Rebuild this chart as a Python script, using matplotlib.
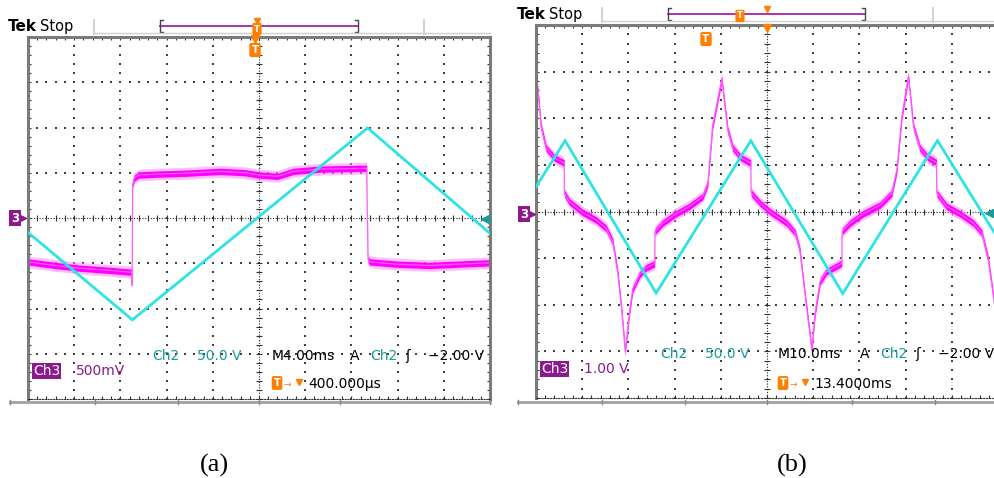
import numpy as np
import matplotlib.pyplot as plt
from matplotlib.lines import Line2D

W, H = 994, 478

# ---- panel (a): traces in graticule divisions (x: -5..5, y: -4..4)
a_ch2_x = [-5.0, -2.74, 2.35, 5.0]
a_ch2_y = [-0.32, -2.25, 1.99, -0.34]

a_ch3_x = [-5.0, -4.4, -3.87, -3.2, -2.75, -2.745, -2.735, -2.70, -2.60, -2.2,
           -1.57, -0.84, -0.3, 0.0, 0.4, 0.74, 1.32, 1.9, 2.33, 2.36, 2.40,
           2.97, 3.69, 4.3, 5.0]
a_ch3_y = [-0.97, -1.05, -1.11, -1.16, -1.2, -1.49, 0.75, 0.88, 0.95, 0.97,
           0.99, 1.03, 1.0, 0.95, 0.92, 1.03, 1.08, 1.09, 1.10, -0.92, -0.97,
           -1.02, -1.05, -1.02, -0.99]

# ---- panel (b)
b_ch2_x = [-5.0, -4.37, -2.40, -0.35, 1.64, 3.69, 5.0]
b_ch2_y = [0.53, 1.52, -1.75, 1.52, -1.76, 1.52, -0.58]

b_ch3_x = [-5.0, -4.96, -4.89, -4.78, -4.60, -4.39, -4.385, -4.28, -3.99, -3.70,
           -3.48, -3.34, -3.23, -3.14, -3.07, -2.98, -2.91, -2.76, -2.62, -2.43,
           -2.425, -2.26, -1.97, -1.68, -1.39, -1.28, -1.18, -0.98, -0.85, -0.74,
           -0.56, -0.35, -0.345, -0.15, 0.06, 0.43, 0.61, 0.71, 0.82, 0.97,
           1.04, 1.15, 1.29, 1.62, 1.625, 1.80, 2.08, 2.45, 2.70, 2.81,
           2.92, 3.06, 3.17, 3.31, 3.49, 3.67, 3.675, 3.89, 4.18, 4.47,
           4.65, 4.79, 4.90, 5.0]
b_ch3_y = [2.8, 2.61, 1.82, 1.36, 1.15, 1.04, 0.39, 0.21, -0.02, -0.18,
           -0.36, -0.64, -1.32, -2.18, -3.0, -2.18, -1.68, -1.36, -1.21, -1.12,
           -0.43, -0.25, -0.05, 0.11, 0.32, 0.61, 1.82, 2.84, 1.75, 1.36,
           1.15, 1.04, 0.40, 0.18, 0.0, -0.25, -0.46, -0.82, -1.75, -2.97,
           -2.18, -1.50, -1.29, -1.11, -0.43, -0.25, -0.05, 0.14, 0.39, 0.89,
           2.04, 2.90, 1.82, 1.36, 1.15, 1.05, 0.39, 0.11, -0.05, -0.25,
           -0.46, -1.04, -1.82, -2.5]

# readouts
a_ch3_scale, b_ch3_scale = '500mV', '1.00 V'
ch2_scale = '50.0 V'
a_timebase, b_timebase = 'M4.00ms', 'M10.0ms'
trig_level = '\u22122.00 V'
a_delay, b_delay = '400.000\u00b5s', '13.4000ms'
captions = ['(a)', '(b)']

CYAN = '#2ee3e3'
MAG = '#ff00ff'
TEAL = '#179b9b'
PURPLE = '#8c1a8c'
ORANGE = '#ff7f00'
GRAY = '#7a7a7a'

fig = plt.figure(figsize=(W / 100, H / 100), dpi=100)
fig.patch.set_facecolor('white')


def ftext(x, y, s, **kw):
    """Text placed at pixel coordinates (origin top-left)."""
    kw.setdefault('family', 'DejaVu Sans')
    return fig.text(x / W, 1 - y / H, s, **kw)


def fline(xs, ys, **kw):
    fig.add_artist(Line2D([x / W for x in xs], [1 - y / H for y in ys],
                          transform=fig.transFigure, **kw))


def add_panel(left, top, right, bottom, right_frame=True):
    ax = fig.add_axes([left / W, 1 - bottom / H, (right - left) / W, (bottom - top) / H])
    ax.set_xlim(-5, 5)
    ax.set_ylim(-4, 4)
    ax.set_xticks([])
    ax.set_yticks([])
    ax.patch.set_alpha(0)
    for side in ['left', 'top', 'right']:
        ax.spines[side].set_color(GRAY)
        ax.spines[side].set_linewidth(2.2)
    ax.spines['right'].set_visible(right_frame)
    ax.spines['bottom'].set_color('#333333')
    ax.spines['bottom'].set_linestyle((0, (1, 1.5)))
    ax.spines['bottom'].set_linewidth(0.8)

    xs = np.arange(-25, 26) / 5
    ys = np.arange(-20, 21) / 5
    dot = dict(s=1.0, c='#404040', marker='s', linewidths=0, zorder=1)
    for k in range(-4, 5):
        if k != 0:
            ax.scatter([k] * len(ys), ys, **dot)
    for j in range(-3, 4):
        if j != 0:
            ax.scatter(xs, [j] * len(xs), **dot)
    # centre cross with sub-division ticks
    ax.plot([-5, 5], [0, 0], color='#222222', lw=0.8, ls=(0, (1, 1.5)), zorder=1)
    ax.plot([0, 0], [-4, 4], color='#222222', lw=0.8, ls=(0, (1, 1.5)), zorder=1)
    ax.plot(xs, np.zeros_like(xs), ls='none', marker='|', ms=4, mew=0.8, color='#333333', zorder=1)
    ax.plot(np.zeros_like(ys), ys, ls='none', marker='_', ms=4, mew=0.8, color='#333333', zorder=1)
    # edge ticks
    for yy in (-4, 4):
        ax.plot(xs, [yy] * len(xs), ls='none', marker='|', ms=5, mew=0.8, color='#333333', zorder=1)
    for xx in (-5, 5):
        ax.plot([xx] * len(ys), ys, ls='none', marker='_', ms=5, mew=0.8, color='#333333', zorder=1)
    return ax


def draw_ch3(ax, xs, ys):
    x = np.array(xs)
    y = np.array(ys)
    ax.fill_between(x, y - 0.13, y + 0.13, color='#ff8cff', alpha=0.55, lw=0, zorder=2)
    ax.fill_between(x, y - 0.07, y + 0.07, color=MAG, lw=0, zorder=2)
    ax.plot(x, y, color='#ff5cff', lw=0.9, zorder=2)


def draw_ch2(ax, xs, ys):
    ax.plot(xs, ys, color=CYAN, lw=2.0, zorder=3, solid_joinstyle='miter')


def t_box(x, y, fs=7.5):
    ftext(x, y, 'T', color='white', fontsize=fs, fontweight='bold', ha='center', va='center',
          bbox=dict(boxstyle='round,pad=0.2', fc=ORANGE, ec='none'))


def tri(x, y, m='v', color=ORANGE, ms=6):
    fline([x], [y], marker=m, color=color, ms=ms, ls='none')


def header(x0, y, sep1, bar0, bar1, sep2, frame_l, frame_r):
    ftext(x0, y + 5, 'Tek', fontsize=11, fontweight='bold', color='black', va='baseline')
    ftext(x0 + 32, y + 5, 'Stop', fontsize=10.5, color='black', va='baseline')
    fline([sep1, sep1], [y - 6, y + 8], color='#c8c8c8', lw=1.2)
    fline([sep2, sep2], [y - 6, y + 8], color='#c8c8c8', lw=1.2)
    fline([bar0, bar1], [y, y], color='#b030b0', lw=1.4)
    fline([bar0 + 3, bar0, bar0, bar0 + 3], [y - 6, y - 6, y + 6, y + 6], color='#444444', lw=1.0)
    fline([bar1 - 3, bar1, bar1, bar1 - 3], [y - 6, y - 6, y + 6, y + 6], color='#444444', lw=1.0)
    fline([frame_l, frame_r], [y + 7, y + 7], color='#d0d0d0', lw=1.0)


def ch_marker(x, y):
    ftext(x, y, '3', color='white', fontsize=8.5, fontweight='bold', ha='center', va='center',
          bbox=dict(boxstyle='square,pad=0.15', fc=PURPLE, ec='none'))
    tri(x + 8, y, m='>', color=PURPLE, ms=5)


def footer(ch3x, ch3y, ch3s, ch2x, ch2y, mx, my, delay, dy):
    ftext(ch3x, ch3y + 5, 'Ch3', color='white', fontsize=10, va='baseline',
          bbox=dict(boxstyle='square,pad=0.08', fc=PURPLE, ec='none'))
    ftext(ch3x + 43, ch3y + 5, ch3s, color=PURPLE, fontsize=10, va='baseline')
    ftext(ch2x, ch2y + 5, 'Ch2', color=TEAL, fontsize=10, va='baseline')
    ftext(ch2x + 45, ch2y + 5, ch2_scale, color=TEAL, fontsize=10, va='baseline')
    tb = a_timebase if mx < 500 else b_timebase
    ftext(mx, my + 5, tb, color='black', fontsize=10, va='baseline')
    off = 78 if mx < 500 else 82
    ftext(mx + off, my + 5, 'A', color='black', fontsize=10, va='baseline')
    ftext(mx + off + 20, my + 5, 'Ch2', color=TEAL, fontsize=10, va='baseline')
    ftext(mx + off + 55, my + 5, '\u0283', color='black', fontsize=10, va='baseline')
    ftext(mx + off + 78, my + 5, trig_level, color='black', fontsize=10, va='baseline')
    t_box(mx + 5, dy, fs=7)
    ftext(mx + 12, dy + 4, '\u2192', color=ORANGE, fontsize=6.5, va='baseline')
    tri(mx + 27, dy - 1, ms=5)
    ftext(mx + 36, dy + 5, delay, color='black', fontsize=10, va='baseline')


# ---------------- panel (a)
ax_a = add_panel(28, 37, 490, 399)
draw_ch3(ax_a, a_ch3_x, a_ch3_y)
draw_ch2(ax_a, a_ch2_x, a_ch2_y)
header(8, 26, 94, 160, 358, 424, 94, 490)
t_box(257, 29, fs=6)
tri(257, 21, ms=4.5)
tri(255, 39)
t_box(255, 50)
ch_marker(15, 218)
tri(485, 219, m='<', color=TEAL, ms=6)
footer(33, 370, a_ch3_scale, 152, 355, 272, 355, a_delay, 383)
fline([10, 490], [402, 402], color='#a0a0a0', lw=2)
for tx in (10, 95, 178, 259, 340, 490):
    fline([tx, tx], [400, 404], color='#888888', lw=1)

# ---------------- panel (b)
ax_b = add_panel(536, 25, 998, 398, right_frame=False)
draw_ch3(ax_b, b_ch3_x, b_ch3_y)
draw_ch2(ax_b, b_ch2_x, b_ch2_y)
header(517, 14, 602, 668, 865, 933, 602, 994)
t_box(740, 16, fs=6)
tri(767, 9, ms=5)
tri(767, 28)
t_box(706, 39)
ch_marker(524, 214)
tri(989, 213, m='<', color=TEAL, ms=6)
footer(541, 368, b_ch3_scale, 660, 353, 778, 353, b_delay, 383)
fline([518, 994], [402, 402], color='#a0a0a0', lw=2)
for tx in (518, 602, 685, 767, 852, 935):
    fline([tx, tx], [400, 404], color='#888888', lw=1)

ftext(214, 472, captions[0], family='Liberation Serif', fontsize=19, ha='center', va='baseline')
ftext(792, 472, captions[1], family='Liberation Serif', fontsize=19, ha='center', va='baseline')

fig.savefig('out.png', dpi=100, facecolor='white')
